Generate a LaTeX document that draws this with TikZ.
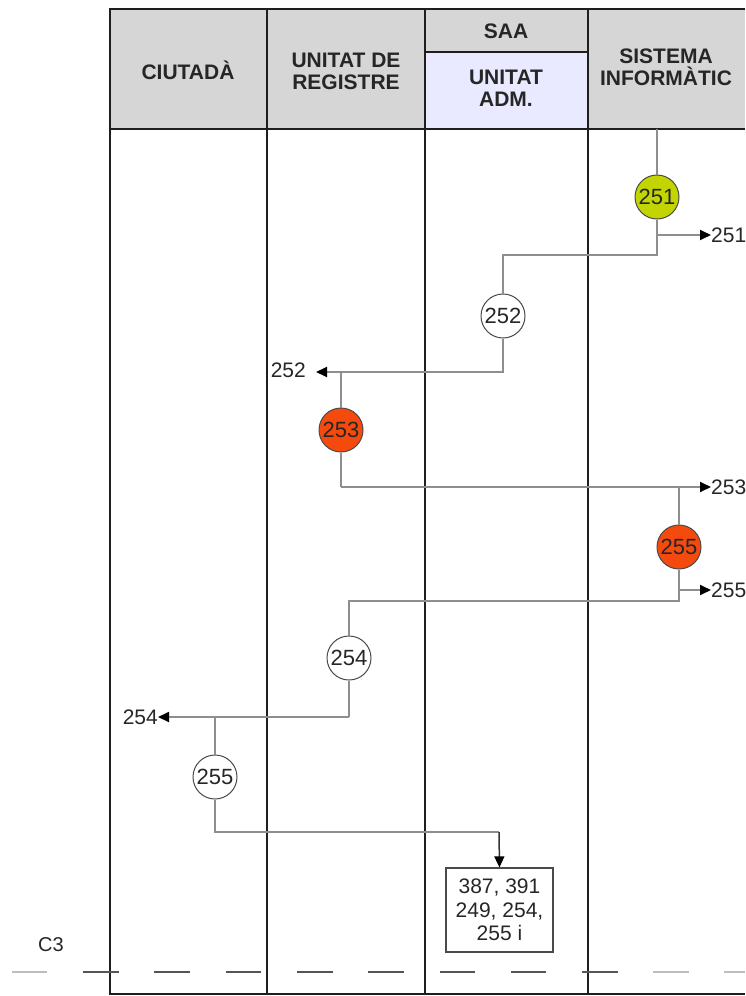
\documentclass[tikz,border=0pt]{standalone}
\usepackage{fontspec}
\setmainfont{Liberation Sans}
\usetikzlibrary{arrows.meta,positioning}
\definecolor{headfill}{HTML}{D6D6D6}
\definecolor{admfill}{HTML}{E9E9FF}
\definecolor{laneline}{HTML}{1E1E1E}
\definecolor{flowline}{HTML}{8E8E8E}
\definecolor{ringline}{HTML}{4A4A4A}
\definecolor{sysact}{HTML}{C3D500}
\definecolor{hotact}{HTML}{F54A0E}
\definecolor{dashdark}{HTML}{555555}
\definecolor{dashlight}{HTML}{BDBDBD}

\begin{document}
\begin{tikzpicture}[x=1pt, y=-1pt, font=\fontsize{21}{23.5}\selectfont,
  lane/.style={draw=laneline, line width=2pt},
  head/.style={font=\fontsize{21}{22}\selectfont\bfseries, align=center, text=black!85},
  act/.style={circle, draw=ringline, line width=1pt, minimum size=44pt, inner sep=0pt, text=black!85, font=\fontsize{22}{22}\selectfont},
  flow/.style={draw=flowline, line width=1.8pt},
  arr/.style={flow, -{Triangle[length=11pt,width=10pt,color=black]}},
  ref/.style={inner sep=0pt, text=black!85},
  cut/.style={line width=2.2pt, dash pattern=on 35.6pt off 35.7pt}]
\useasboundingbox (0,0) rectangle (745,996);
% header
\fill[headfill] (110,9) rectangle (745,129);
\fill[admfill] (425,52) rectangle (588,129);
\node[head] (hciu) at (188,70) {CIUTADÀ};
\node[head] (hreg) at (346,71) {UNITAT DE\\REGISTRE};
\node[head] (hsaa) at (506,31) {SAA};
\node[head] (hadm) at (506,88) {UNITAT\\ADM.};
\node[head] (hsis) at (666,67) {SISTEMA\\INFORMÀTIC};
% lanes
\draw[lane] (745,9) -- (110,9) -- (110,994) -- (745,994);
\draw[lane] (110,129) -- (745,129);
\draw[lane] (425,52) -- (588,52);
\foreach \lx in {267,425,588} \draw[lane] (\lx,9) -- (\lx,994);
% cut line
\draw[cut, draw=dashlight] (12,972) -- (47,972);
\draw[cut, draw=dashdark] (83,972) -- (618,972);
\draw[cut, draw=dashlight] (653,972) -- (745,972);
\node[ref, font=\fontsize{20}{20}\selectfont] (c3) at (51,945) {C3};
% activities
\node[act, fill=sysact] (a251) at (657,197) {251};
\node[act, fill=white] (a252) at (503,316) {252};
\node[act, fill=hotact] (a253) at (341,430) {253};
\node[act, fill=hotact] (a255s) at (679,547) {255};
\node[act, fill=white] (a254) at (349,658) {254};
\node[act, fill=white] (a255c) at (215,777) {255};
\node[draw=ringline, line width=1.2pt, align=center, minimum width=107pt, minimum height=84pt, inner sep=2pt, text=black!85] (doc) at (499.5,910) {387, 391\\249, 254,\\255 i};
% references
\node[ref, anchor=west] (r251) at (711,235) {251};
\node[ref, anchor=east] (r252) at (306,370) {252};
\node[ref, anchor=west] (r253) at (711,487) {253};
\node[ref, anchor=west] (r255) at (711,590) {255};
\node[ref, anchor=east] (r254) at (158,717) {254};
\coordinate (top) at (657,129);
\coordinate (k1) at (657,255);
\coordinate (k2) at (503,255);
\coordinate (k3) at (503,372);
\coordinate (k4) at (341,372);
\coordinate (k5) at (341,487);
\coordinate (k6) at (679,487);
\coordinate (k7) at (679,601);
\coordinate (k8) at (349,601);
\coordinate (k9) at (349,717);
\coordinate (k10) at (215,717);
\coordinate (k11) at (215,832);
\coordinate (k12) at (499,832);
% connectors
\draw[flow] (top) -- (a251);
\draw[flow] (a251) -- (k1) -- (k2) -- (a252);
\draw[arr] (657,235) -- (r251.west);
\draw[flow] (a252) -- (k3) -- (k4);
\draw[arr] (k3) -- (316,372);
\draw[flow] (k4) -- (a253);
\draw[flow] (a253) -- (k5);
\draw[arr] (k5) -- (r253.west);
\draw[flow] (k6) -- (a255s);
\draw[flow] (a255s) -- (k7) -- (k8) -- (a254);
\draw[arr] (679,590) -- (r255.west);
\draw[flow] (a254) -- (k9);
\draw[arr] (k9) -- (r254.east);
\draw[flow] (k10) -- (a255c);
\draw[flow] (a255c) -- (k11) -- (k12);
\draw[arr, draw=black!80, line width=1.5pt] (k12) -- (doc.north);
\end{tikzpicture}
\end{document}
